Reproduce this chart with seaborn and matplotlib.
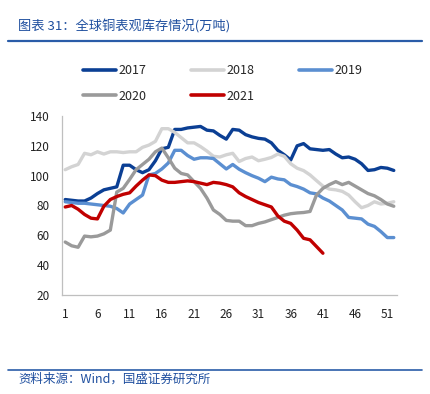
import pandas as pd
import numpy as np
import matplotlib
matplotlib.use('Agg')
import matplotlib.pyplot as plt
import seaborn as sns
from matplotlib.lines import Line2D

# Weekly data (week 1..52), 万吨
weeks = list(range(1, 53))

y2017 = [84, 83.5, 83, 83, 85, 88, 90.5, 91.5, 92.5, 107, 107, 104, 102, 104, 110, 118, 119,
         131, 131, 132, 132.5, 133, 130.5, 130, 127, 124.5, 131, 130.5, 127.5, 126, 125, 124.5,
         122, 117, 114, 110.5, 120, 121.5, 118, 117.5, 117, 117.5, 114.5, 112, 112.5, 111, 108,
         103.5, 104, 105.5, 105, 103.5]
y2018 = [104, 106, 107.5, 115, 114, 116, 114.5, 116, 116, 115.5, 116, 116, 119, 120.5, 123,
         131.5, 131.5, 129, 125.5, 122, 122, 119.5, 116.5, 113, 112.5, 114, 115, 109.5, 111.5,
         112.5, 110, 111, 112.2, 114.5, 113, 108, 105, 103.4, 100.5, 96.7, 93, 91, 90.5, 89.5,
         87, 82.5, 78.5, 80, 82.5, 81, 81.5, 82.5]
y2019 = [82.5, 82, 81.5, 81.5, 81, 80.5, 80, 79.5, 78, 75, 81, 84, 87, 100.5, 101.5, 104.5,
         108.5, 117, 117, 113.5, 111, 112, 112, 111.5, 108, 104.5, 107.5, 104.3, 102, 100, 98.3,
         96, 99, 97.8, 97.2, 94, 92.7, 91, 88.5, 87.8, 85, 83, 80, 77, 72, 71.5, 71, 67.5, 66,
         62.5, 58.5, 58.5]
y2020 = [55.5, 53, 52, 59.5, 59, 59.5, 61, 63.5, 89, 91.5, 97.5, 104, 107.5, 111, 116, 118.5,
         112, 105, 101.5, 100.5, 96, 91.5, 85, 77, 74, 70, 69.5, 69.5, 66.5, 66.5, 68, 69, 70.5,
         72, 73.5, 74.5, 75, 75.3, 76, 87, 91.5, 94, 96, 94, 95.5, 93, 90.5, 88, 86.5, 84, 81,
         79.5]
y2021 = [79, 80, 77.5, 74, 71.5, 71, 79.5, 84, 86, 87.5, 88.5, 93, 97, 100.5, 100, 97, 95.5,
         95.5, 96, 96.5, 96, 95, 94, 95.5, 95, 94, 92.5, 88.5, 86, 84, 82, 80.5, 79, 73, 69.5,
         68, 63.5, 58, 57, 52.5, 48]

years = ['2017', '2018', '2019', '2020', '2021']
series = [y2017, y2018, y2019, y2020, y2021]
colors = {'2017': '#0b3f94', '2018': '#d3d3d3', '2019': '#5b8fd1',
          '2020': '#9a9a9a', '2021': '#c00000'}

rows = []
for yr, vals in zip(years, series):
    for w, v in zip(weeks, vals):
        rows.append({'week': w, 'value': v, 'year': yr})
df = pd.DataFrame(rows)

sns.set_style('white')
plt.rcParams['font.family'] = ['Noto Sans CJK SC', 'DejaVu Sans']

fig = plt.figure(figsize=(4.3, 3.94), dpi=100)
ax = fig.add_axes([62 / 430, 1 - 295 / 394, (397 - 62) / 430, (295 - 116) / 394])

sns.lineplot(data=df, x='week', y='value', hue='year', palette=colors,
             linewidth=2.4, ax=ax, legend=False)

ax.set_xlim(0.5, 52.5)
ax.set_ylim(20, 140)
ax.set_xlabel('')
ax.set_ylabel('')
ax.set_yticks(range(20, 141, 20))
ax.set_xticks(range(1, 52, 5))
ax.set_xticks(np.arange(0.5, 51, 5), minor=True)
ax.tick_params(axis='x', which='major', length=0, pad=9, labelsize=8.5, labelcolor='#222222')
ax.tick_params(axis='x', which='minor', length=3, direction='in', color='#bfbfbf', width=0.8)
ax.tick_params(axis='y', length=3, direction='in', color='#bfbfbf', width=0.8, pad=9,
               labelsize=8.5, labelcolor='#222222')
for s in ['top', 'right']:
    ax.spines[s].set_visible(False)
for s in ['left', 'bottom']:
    ax.spines[s].set_color('#bfbfbf')
    ax.spines[s].set_linewidth(0.9)

# legend filled row by row: 2017 2018 2019 / 2020 2021
order = ['2017', '2020', '2018', '2021', '2019']
handles = [Line2D([0], [0], color=colors[y], lw=2.6) for y in order]
fig.legend(handles, order, loc='upper left', bbox_to_anchor=(83 / 430, 1 - 64 / 394),
           ncol=3, frameon=False, fontsize=9, handlelength=2.6, handletextpad=0.2,
           columnspacing=3.6, labelspacing=1.0, borderpad=0, borderaxespad=0)

# title, rules and source
blue = '#1f4f9f'
fig.text(18 / 430, 1 - 27 / 394, '图表 31：全球铜表观库存情况(万吨)', color=blue,
         fontsize=9.5, va='center', ha='left', style='italic')
fig.add_artist(Line2D([8 / 430, 422 / 430], [1 - 41 / 394, 1 - 41 / 394],
                      color='#2a5ca8', lw=1.6))
fig.add_artist(Line2D([8 / 430, 422 / 430], [1 - 370 / 394, 1 - 370 / 394],
                      color='#2a5ca8', lw=1.2))
fig.text(18 / 430, 1 - 379 / 394, '资料来源：Wind，国盛证券研究所', color=blue,
         fontsize=9, va='center', ha='left', style='italic')

fig.savefig('out.png', dpi=100)
